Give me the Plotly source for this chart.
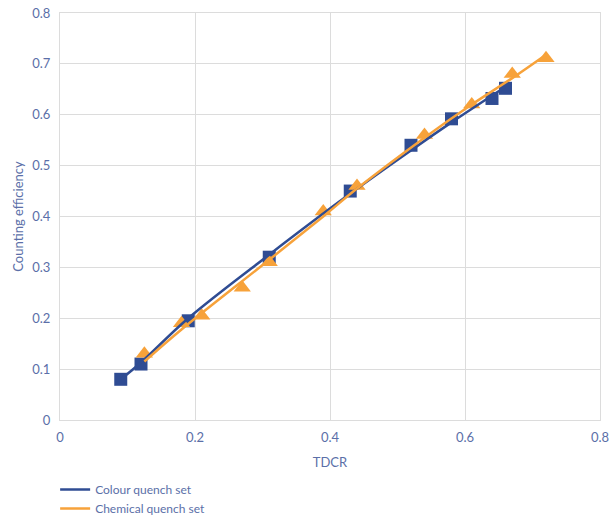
import plotly.graph_objects as go

# Measured data
colour_tdcr = [0.09, 0.12, 0.19, 0.31, 0.43, 0.52, 0.58, 0.64, 0.66]
colour_eff = [0.08, 0.11, 0.195, 0.32, 0.45, 0.54, 0.592, 0.632, 0.652]

chem_tdcr = [0.125, 0.18, 0.21, 0.27, 0.31, 0.39, 0.44, 0.54, 0.61, 0.67, 0.72]
chem_eff = [0.13, 0.19, 0.205, 0.26, 0.31, 0.41, 0.46, 0.56, 0.62, 0.68, 0.711]

# Trend lines
colour_fit_x = [0.09, 0.12, 0.19, 0.31, 0.43, 0.52, 0.58, 0.66]
colour_fit_y = [0.08, 0.113, 0.2, 0.325, 0.445, 0.53, 0.585, 0.655]

chem_fit_x = [0.125, 0.18, 0.31, 0.39, 0.44, 0.54, 0.61, 0.67, 0.72]
chem_fit_y = [0.115, 0.178, 0.315, 0.40, 0.455, 0.555, 0.62, 0.672, 0.718]

x_ticks = [0, 0.2, 0.4, 0.6, 0.8]
y_ticks = [0, 0.1, 0.2, 0.3, 0.4, 0.5, 0.6, 0.7, 0.8]

BLUE = "#2F4C93"
ORANGE = "#F7A23A"
TXT = "#5B6FA8"
GRID = "#DCDCDC"
CLEAR = "rgba(0,0,0,0)"

fig = go.Figure()
fig.add_trace(go.Scatter(x=colour_tdcr, y=colour_eff, mode="markers",
                         marker=dict(symbol="square", size=13, color=BLUE),
                         showlegend=False, hoverinfo="skip"))
fig.add_trace(go.Scatter(x=chem_tdcr, y=chem_eff, mode="markers",
                         marker=dict(symbol="triangle-up", size=15, color=ORANGE),
                         showlegend=False, hoverinfo="skip"))
fig.add_trace(go.Scatter(x=colour_fit_x, y=colour_fit_y, mode="lines",
                         line=dict(color=BLUE, width=2.5, shape="spline"),
                         name="Colour quench set"))
fig.add_trace(go.Scatter(x=chem_fit_x, y=chem_fit_y, mode="lines",
                         line=dict(color=ORANGE, width=2.5, shape="spline"),
                         name="Chemical quench set"))

fig.update_layout(
    width=614, height=515,
    margin=dict(l=60, r=14, t=13, b=95, autoexpand=False),
    paper_bgcolor="white", plot_bgcolor="white",
    font=dict(family="Lato, Open Sans, sans-serif", color=TXT, size=13),
    legend=dict(x=-0.009, y=-0.135, xanchor="left", yanchor="top",
                font=dict(size=12, color=TXT), tracegroupgap=4),
    xaxis=dict(range=[0, 0.8], tickvals=x_ticks, ticktext=[str(v) for v in x_ticks],
               showgrid=True, gridcolor=GRID, gridwidth=1, zeroline=False,
               showline=True, linecolor=GRID, mirror=True, automargin=False,
               ticks="outside", ticklen=5, tickcolor=CLEAR,
               title=dict(text="TDCR", font=dict(size=13, color=TXT), standoff=14)),
    yaxis=dict(range=[0, 0.8], tickvals=y_ticks, ticktext=[str(v) for v in y_ticks],
               showgrid=True, gridcolor=GRID, gridwidth=1, zeroline=False,
               showline=True, linecolor=GRID, mirror=True, automargin=False,
               ticks="outside", ticklen=6, tickcolor=CLEAR,
               title=dict(text="Counting efficiency", font=dict(size=13, color=TXT), standoff=5)),
)

fig.write_html("out.html", post_script="document.body.style.margin='0';",
               config={"displayModeBar": False})
